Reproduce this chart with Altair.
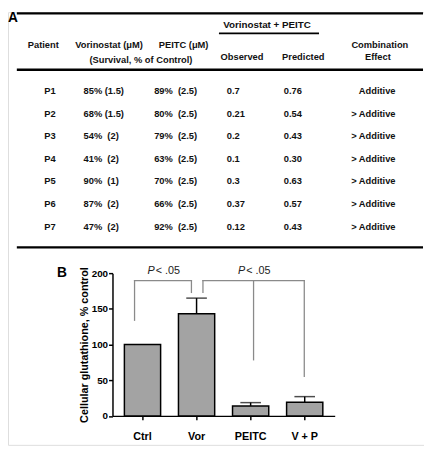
import altair as alt
import pandas as pd

# ---------------- Panel A: table values ----------------
patients = ["P1", "P2", "P3", "P4", "P5", "P6", "P7"]
vorinostat_survival = ["85% (1.5)", "68% (1.5)", "54%  (2)", "41%  (2)", "90%  (1)", "87%  (2)", "47%  (2)"]
peitc_survival = ["89%  (2.5)", "80%  (2.5)", "79%  (2.5)", "63%  (2.5)", "70%  (2.5)", "66%  (2.5)", "92%  (2.5)"]
observed = ["0.7", "0.21", "0.2", "0.1", "0.3", "0.37", "0.12"]
predicted = ["0.76", "0.54", "0.43", "0.30", "0.63", "0.57", "0.43"]
combination = ["Additive", "> Additive", "> Additive", "> Additive", "> Additive", "> Additive", "> Additive"]

# ---------------- Panel B: bar values ----------------
groups = ["Ctrl", "Vor", "PEITC", "V + P"]
glutathione = [100, 143, 14, 19]
err_upper = [None, 165, 18.6, 27]

# brackets: x in category-index units, y in % control
bracket_x1 = [-0.147, -0.147, 0.905, 1.118, 1.118, 2.054, 2.992]
bracket_x2 = [-0.147, 0.905, 0.905, 1.118, 2.992, 2.054, 2.992]
bracket_y1 = [134, 189.4, 189.4, 173, 189.4, 78.6, 55.3]
bracket_y2 = [189.4, 189.4, 173, 189.4, 189.4, 189.4, 189.4]
sig_pos = [(-0.147 + 0.905) / 2, (1.118 + 2.992) / 2]
sig_level = [203, 203]

# ---------------- layout ----------------
FONT = "Liberation Sans"
W, H = 424, 441
ROW_RANGE = [80.3, 218.7]
Y0_PX, Y200_PX = 411.5, 266
X_RANGE = [106.5, 333]
PAD_IN, PAD_OUT = 0.33, 0.22
n = len(groups)
step = (X_RANGE[1] - X_RANGE[0]) / (n - PAD_IN + 2 * PAD_OUT)
c0 = X_RANGE[0] + step * PAD_OUT + step * (1 - PAD_IN) / 2
c_last = c0 + step * (n - 1)

one = pd.DataFrame({"_": [0]})


def nb(s):
    return s.replace("  ", " \u00a0")


def label(text, x, y, size=9.5, weight="bold", align="center", baseline="middle", style="normal", color="#111"):
    return alt.Chart(one).mark_text(
        text=text, font=FONT, fontSize=size, fontWeight=weight, align=align,
        baseline=baseline, fontStyle=style, color=color
    ).encode(x=alt.value(x), y=alt.value(y))


def hline(x1, x2, y, width):
    return alt.Chart(one).mark_rule(color="black", strokeWidth=width).encode(
        x=alt.value(x1), x2=alt.value(x2), y=alt.value(y)
    )


table_df = pd.DataFrame({
    "row": list(range(1, len(patients) + 1)),
    "patient": patients,
    "vor": [nb(s) for s in vorinostat_survival],
    "peitc": [nb(s) for s in peitc_survival],
    "obs": observed,
    "pred": predicted,
    "effect": combination,
})
row_scale = alt.Scale(domain=[1, len(patients)], range=ROW_RANGE, nice=False, zero=False)


def col(field, x, align):
    return alt.Chart(table_df).mark_text(
        font=FONT, fontSize=9.5, fontWeight="bold", align=align, baseline="middle", color="#111"
    ).encode(
        x=alt.value(x),
        y=alt.Y("row:Q", scale=row_scale, axis=None),
        text=alt.Text(f"{field}:N"),
    )


HDR1, HDR_MID, HDR2 = 34, 46, 49

table_layers = [
    label("A", 0, 10, size=14, align="left", baseline="alphabetic", color="black"),
    hline(9, 423, 1.2, 2.2),
    label("Vorinostat + PEITC", 264, 13, size=10),
    hline(215, 317, 21.7, 1.8),
    label("Patient", 36, HDR1),
    label("Vorinostat (\u03bcM)", 103, HDR1),
    label("PEITC (\u03bcM)", 179, HDR1),
    label("(Survival, % of Control)", 135.5, HDR2),
    label("Observed", 238.5, HDR_MID),
    label("Predicted", 301, HDR_MID),
    label("Combination", 379, HDR1),
    label("Effect", 377, HDR_MID),
    hline(9, 423, 58.7, 2.4),
    col("patient", 37, "left"),
    col("vor", 77, "left"),
    col("peitc", 149, "left"),
    col("obs", 223, "left"),
    col("pred", 281, "left"),
    col("effect", 395, "right"),
    hline(9, 423, 239.7, 2.2),
]

# ---------------- Panel B chart ----------------
bar_df = pd.DataFrame({"group": groups, "value": glutathione, "err": err_upper})
err_df = bar_df.dropna()

x_scale = alt.Scale(domain=groups, range=X_RANGE, paddingInner=PAD_IN, paddingOuter=PAD_OUT)
y_scale = alt.Scale(domain=[0, 200], range=[Y0_PX, Y200_PX], nice=False, zero=False)

bars = alt.Chart(bar_df).mark_bar(fill="#a3a3a3", stroke="black", strokeWidth=1.5).encode(
    x=alt.X("group:N", sort=groups, scale=x_scale, axis=alt.Axis(
        orient="bottom", offset=Y0_PX - H, title=None, labelAngle=0, labelFont=FONT,
        labelFontSize=11, labelFontWeight="bold", labelColor="black", tickSize=4,
        tickColor="black", tickWidth=1.5, domainColor="black", domainWidth=1.5,
        labelPadding=11, grid=False)),
    y=alt.Y("value:Q", scale=y_scale, axis=alt.Axis(
        orient="left", offset=-X_RANGE[0], values=[0, 50, 100, 150, 200], grid=False,
        title="Cellular glutathione, % control", titleFont=FONT, titleFontSize=11,
        titleFontWeight="bold", titleColor="black", titleX=78 - X_RANGE[0],
        titleY=(Y0_PX + Y200_PX) / 2, titleBaseline="middle", titleAlign="center",
        titleAngle=270, labelFont=FONT, labelFontSize=10, labelFontWeight="bold",
        labelColor="black", tickSize=4, tickColor="black", tickWidth=1.5,
        domainColor="black", domainWidth=1.5, labelPadding=1)),
)

stems = alt.Chart(err_df).mark_rule(color="black", strokeWidth=1.5).encode(
    x=alt.X("group:N", sort=groups, scale=x_scale, axis=None),
    y=alt.Y("value:Q", scale=y_scale, axis=None),
    y2="err:Q",
)
caps = alt.Chart(err_df).mark_tick(color="black", thickness=1.5, size=21, orient="horizontal").encode(
    x=alt.X("group:N", sort=groups, scale=x_scale, axis=None),
    y=alt.Y("err:Q", scale=y_scale, axis=None),
)

bx = alt.Scale(domain=[0, n - 1], range=[c0, c_last], nice=False, zero=False)
bracket_df = pd.DataFrame({"x1": bracket_x1, "x2": bracket_x2, "y1": bracket_y1, "y2": bracket_y2})
brackets = alt.Chart(bracket_df).mark_rule(color="#8a8a8a", strokeWidth=1.3, strokeCap="square").encode(
    x=alt.X("x1:Q", scale=bx, axis=None), x2="x2:Q",
    y=alt.Y("y1:Q", scale=y_scale, axis=None), y2="y2:Q",
)
sig_df = pd.DataFrame({"pos": sig_pos, "lvl": sig_level})
sig_p = alt.Chart(sig_df).mark_text(
    text="P", font=FONT, fontSize=11, fontStyle="italic", align="right", baseline="middle", dx=-8.5, color="#222"
).encode(x=alt.X("pos:Q", scale=bx, axis=None), y=alt.Y("lvl:Q", scale=y_scale, axis=None))
sig_rest = alt.Chart(sig_df).mark_text(
    text="< .05", font=FONT, fontSize=11, align="left", baseline="middle", dx=-7.5, color="#222"
).encode(x=alt.X("pos:Q", scale=bx, axis=None), y=alt.Y("lvl:Q", scale=y_scale, axis=None))

b_layers = [
    label("B", 50, 270, size=14, align="left", baseline="alphabetic", color="black"),
    brackets, bars, stems, caps, sig_p, sig_rest,
]

chart = alt.layer(*table_layers, *b_layers).resolve_scale(
    x="independent", y="independent"
).properties(
    width=W, height=H, autosize=alt.AutoSizeParams(type="none"), padding=0
).configure_view(stroke=None).configure(background="white")

chart.save("out.html", embed_options={"renderer": "svg", "actions": False})
